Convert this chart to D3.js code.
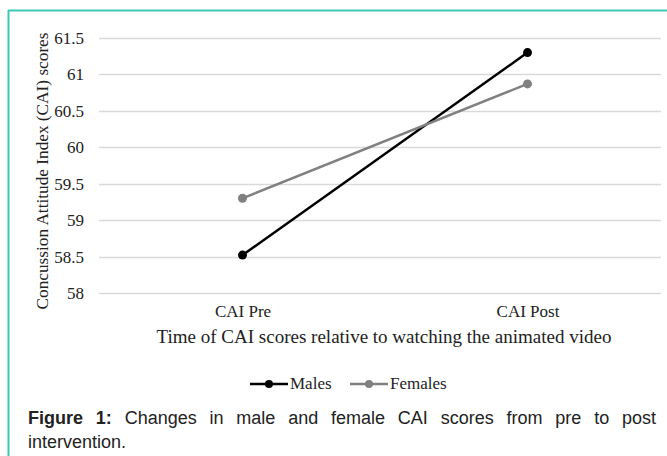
<!DOCTYPE html>
<html>
<head>
<meta charset="utf-8">
<script src="https://cdn.jsdelivr.net/npm/d3@7"></script>
<style>
  body { margin: 0; background: #fff; }
  #wrap { position: relative; width: 667px; height: 456px; overflow: hidden; }
  #caption {
    position: absolute; left: 28px; top: 406px; width: 628px;
    font-family: "Liberation Sans", Arial, sans-serif; font-size: 18px;
    line-height: 24px; color: #222;
  }
  #caption .l1 { text-align: justify; text-align-last: justify; white-space: nowrap; }
  svg text { font-family: "Liberation Serif", "Times New Roman", serif; }
</style>
</head>
<body>
<div id="wrap">
  <div id="chart"></div>
  <div id="caption">
    <div class="l1"><b>Figure 1:</b> Changes in male and female CAI scores from pre to post</div>
    <div>intervention.</div>
  </div>
</div>
<script>
(function () {

  // data
  var categories = ["CAI Pre", "CAI Post"];
  var males = [58.52, 61.30];
  var females = [59.30, 60.87];
  var yTicks = [58, 58.5, 59, 59.5, 60, 60.5, 61, 61.5];

  var series = [
    { name: "Males", values: males, color: "#000000" },
    { name: "Females", values: females, color: "#808080" }
  ];

  var serif = "'Liberation Serif', 'Times New Roman', serif";
  var width = 667, height = 456;

  var svg = d3.select("#chart")
    .append("svg")
    .attr("width", width)
    .attr("height", height)
    .style("position", "absolute")
    .style("left", 0)
    .style("top", 0);

  // teal frame (top and left only visible)
  svg.append("line")
    .attr("x1", 8).attr("x2", width).attr("y1", 10.5).attr("y2", 10.5)
    .attr("stroke", "#3cc8b4").attr("stroke-width", 2);
  svg.append("line")
    .attr("x1", 8.5).attr("x2", 8.5).attr("y1", 10).attr("y2", height)
    .attr("stroke", "#3cc8b4").attr("stroke-width", 2);

  var yScale = d3.scaleLinear()
    .domain([58, 61.5])
    .range([293, 38]);

  var xScale = d3.scalePoint()
    .domain(categories)
    .range([100, 670])
    .padding(0.5);

  // gridlines
  svg.append("g")
    .selectAll("line")
    .data(yTicks)
    .enter().append("line")
    .attr("x1", 99)
    .attr("x2", 661)
    .attr("y1", function (d) { return Math.round(yScale(d)) + 0.5; })
    .attr("y2", function (d) { return Math.round(yScale(d)) + 0.5; })
    .attr("stroke", "#d9d9d9")
    .attr("stroke-width", 1.5);

  // y tick labels
  var yAxis = d3.axisLeft(yScale)
    .tickValues(yTicks)
    .tickFormat(d3.format("~g"))
    .tickSize(0)
    .tickPadding(0);

  var yg = svg.append("g")
    .attr("class", "axis y-axis")
    .attr("transform", "translate(84,0)")
    .call(yAxis);
  yg.select(".domain").remove();
  yg.attr("font-family", serif).attr("font-size", 17);
  yg.selectAll(".tick text").attr("fill", "#222");

  // x tick labels
  var xAxis = d3.axisBottom(xScale).tickSize(0).tickPadding(0);
  var xg = svg.append("g")
    .attr("class", "axis x-axis")
    .attr("transform", "translate(0,305)")
    .call(xAxis);
  xg.select(".domain").remove();
  xg.attr("font-family", serif).attr("font-size", 17);
  xg.selectAll(".tick text").attr("fill", "#222");

  // axis titles
  svg.append("text")
    .attr("x", 384)
    .attr("y", 343)
    .attr("text-anchor", "middle")
    .attr("textLength", 455)
    .attr("lengthAdjust", "spacingAndGlyphs")
    .attr("font-size", 18)
    .attr("fill", "#222")
    .text("Time of CAI scores relative to watching the animated video");

  svg.append("text")
    .attr("transform", "translate(48,171) rotate(-90)")
    .attr("text-anchor", "middle")
    .attr("textLength", 277)
    .attr("lengthAdjust", "spacingAndGlyphs")
    .attr("font-size", 17)
    .attr("fill", "#222")
    .text("Concussion Attitude Index (CAI) scores");

  // lines and markers
  var line = d3.line()
    .x(function (d, i) { return xScale(categories[i]); })
    .y(function (d) { return yScale(d); });

  series.forEach(function (s) {
    svg.append("path")
      .datum(s.values)
      .attr("d", line)
      .attr("fill", "none")
      .attr("stroke", s.color)
      .attr("stroke-width", 2.5);

    svg.selectAll(".dot-" + s.name)
      .data(s.values)
      .enter().append("circle")
      .attr("class", "dot-" + s.name)
      .attr("cx", function (d, i) { return xScale(categories[i]); })
      .attr("cy", function (d) { return yScale(d); })
      .attr("r", 4.5)
      .attr("fill", s.color);
  });

  // legend
  var legend = svg.append("g")
    .attr("transform", "translate(250,384)");

  var item = legend.selectAll(".item")
    .data(series)
    .enter().append("g")
    .attr("class", "item")
    .attr("transform", function (d, i) { return "translate(" + (i * 100) + ",0)"; });

  item.append("line")
    .attr("x1", 0).attr("x2", 38)
    .attr("y1", 0).attr("y2", 0)
    .attr("stroke", function (d) { return d.color; })
    .attr("stroke-width", 2.5);

  item.append("circle")
    .attr("cx", 19).attr("cy", 0).attr("r", 4)
    .attr("fill", function (d) { return d.color; });

  item.append("text")
    .attr("x", 40)
    .attr("y", 5)
    .attr("font-size", 17)
    .attr("fill", "#222")
    .text(function (d) { return d.name; });

})()
</script>
</body>
</html>
